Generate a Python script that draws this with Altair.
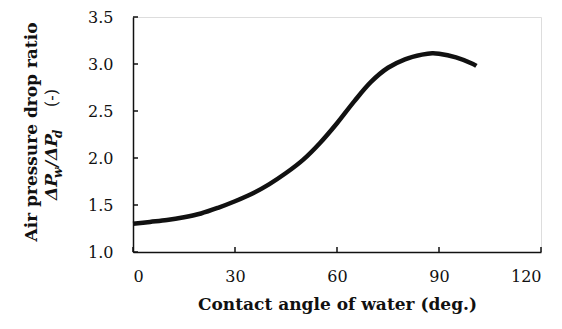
import altair as alt
import pandas as pd

# Data
angle = [0, 5, 10, 15, 20, 25, 30, 35, 40, 45, 50, 55, 60, 65, 70, 75, 80, 85, 88, 90, 95, 100, 101]
ratio = [1.30, 1.32, 1.34, 1.37, 1.41, 1.47, 1.54, 1.62, 1.72, 1.84, 1.98, 2.16, 2.37, 2.60, 2.81, 2.96, 3.05, 3.10, 3.115, 3.11, 3.07, 3.00, 2.98]
x_ticks = [0, 30, 60, 90, 120]
y_ticks = [1.0, 1.5, 2.0, 2.5, 3.0, 3.5]

W, H = 408, 235
FONT = "DejaVu Serif"

df = pd.DataFrame({"angle": angle, "ratio": ratio})
xs = alt.Scale(domain=[0, 120], nice=False)
ys = alt.Scale(domain=[1.0, 3.5], nice=False)

line = alt.Chart(df).mark_line(color="#111111", strokeWidth=4.5, interpolate="catmull-rom").encode(
    x=alt.X("angle:Q", scale=xs, axis=alt.Axis(
        values=x_ticks, title="Contact angle of water (deg.)", grid=False,
        ticks=False, tickSize=0, labelPadding=16, labelFont=FONT, labelFontSize=16,
        labelColor="#111111", titleFont=FONT, titleFontSize=17, titleFontWeight="bold",
        titleColor="#111111", titlePadding=12, domainColor="#111111", domainWidth=1.5)),
    y=alt.Y("ratio:Q", scale=ys, axis=alt.Axis(
        values=y_ticks, format=".1f", title=None, grid=False,
        ticks=False, tickSize=0, labelPadding=20, labelFont=FONT, labelFontSize=16,
        labelColor="#111111", domainColor="#111111", domainWidth=1.5)),
)

ytick = alt.Chart(pd.DataFrame({"v": y_ticks})).mark_rule(color="#111111", strokeWidth=1.5).encode(
    y=alt.Y("v:Q", scale=ys), x=alt.value(0), x2=alt.value(5))
xtick = alt.Chart(pd.DataFrame({"v": x_ticks})).mark_rule(color="#111111", strokeWidth=1.5).encode(
    x=alt.X("v:Q", scale=xs), y=alt.value(H), y2=alt.value(H - 5))


def label(txt, x, y, size=17, weight="bold", style="normal", align="left", baseline="alphabetic"):
    return alt.Chart(pd.DataFrame({"t": [txt]})).mark_text(
        angle=270, font=FONT, fontSize=size, fontWeight=weight, fontStyle=style,
        align=align, baseline=baseline, color="#111111").encode(
        text="t:N", x=alt.value(x), y=alt.value(y))


t1 = label("Air pressure drop ratio", -101, 115, size=17, align="center", baseline="middle")
segs = [
    label("ΔP", -76, 183, style="italic"),
    label("w", -71, 161, size=12, style="italic"),
    label("/", -76, 150, style="italic"),
    label("ΔP", -76, 143, style="italic"),
    label("d", -71, 121, size=12, style="italic"),
    label("(-)", -76, 90, size=16, weight="normal"),
]

chart = alt.layer(line, ytick, xtick, t1, *segs).properties(
    width=W, height=H,
    autosize=alt.AutoSizeParams(type="none"),
    padding={"left": 125, "top": 9, "right": 13, "bottom": 69},
).configure_view(stroke=None).configure(background="white")

chart.save("out.html", embed_options={"renderer": "svg", "actions": False})
